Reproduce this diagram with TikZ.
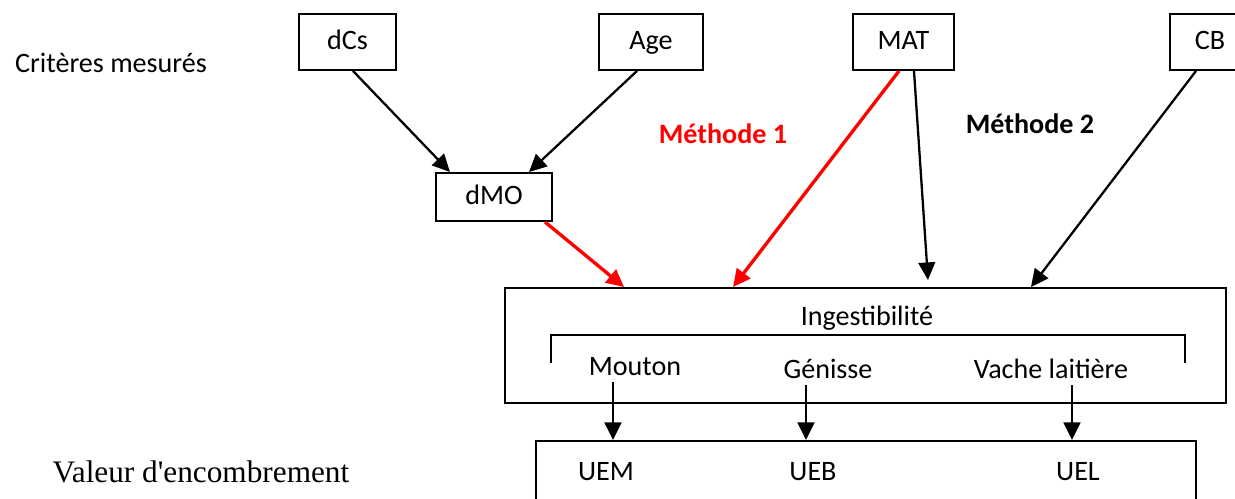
\documentclass[tikz,border=0pt]{standalone}
\usepackage{fontspec}
\setmainfont{Carlito}
\newfontfamily\timesfont{Liberation Serif}
\usetikzlibrary{arrows.meta}

\newcommand{\px}{0.02cm}

\tikzset{
    critbox/.style={draw, line width=1.1pt, minimum height=1.12cm, inner sep=0pt, text height=11pt, text depth=3pt},
    bigbox/.style={draw, line width=1.1pt, inner sep=0pt},
    arr/.style={line width=1.3pt, -{Triangle[length=10pt,width=9.5pt]}},
    redarr/.style={red, line width=1.9pt, -{Triangle[length=10pt,width=9.5pt]}},
}

\begin{document}
\begin{tikzpicture}[x=\px, y=-\px, font=\fontsize{16}{19}\selectfont]
    \useasboundingbox (0,0) rectangle (1235,499);
    \clip (0,0) rectangle (1235,499);

    % Measured criteria.
    \node[critbox, minimum width=1.94cm] (dcs) at (347.5,42) {dCs};
    \node[critbox, minimum width=2.08cm] (age) at (651,42)   {Age};
    \node[critbox, minimum width=2.02cm] (mat) at (903.5,42) {MAT};
    \node[critbox, minimum width=1.6cm]  (cb)  at (1210,42)  {CB};
    \node[critbox, minimum width=2.32cm, minimum height=0.96cm] (dmo) at (494,197) {dMO};

    % Ingestibility and fill values.
    \node[bigbox, minimum width=14.42cm, minimum height=2.3cm] (ing) at (865.5,345.5) {};
    \node[bigbox, minimum width=13.2cm, minimum height=1.58cm] (val) at (866,480.5) {};
    \draw[line width=1pt] (551,363) -- (551,335) -- (1185,335) -- (1185,363);

    % Labels.
    \node (crit) at (111,63) {Critères mesurés};
    \node (enc) at (201,472) {\timesfont\fontsize{17.8}{21}\selectfont Valeur d'encombrement};
    \node[red, font=\fontsize{16}{19}\selectfont\bfseries] (meth1) at (723,134) {Méthode 1};
    \node[font=\fontsize{16}{19}\selectfont\bfseries] (meth2) at (1030,124) {Méthode 2};
    \node (ingtxt)  at (867,318)  {Ingestibilité};
    \node (mouton)  at (635,367)  {Mouton};
    \node (genisse) at (828,369)  {Génisse};
    \node (vache)   at (1051,369) {Vache laitière};
    \node (uem) at (606,472)  {UEM};
    \node (ueb) at (813,472)  {UEB};
    \node (uel) at (1078,472) {UEL};

    % Arrows from the criteria.
    \coordinate (matend) at (928,280);
    \draw[arr] ([xshift=0.11cm]dcs.south) -- ([xshift=-0.88cm]dmo.north);
    \draw[arr] ([xshift=-0.28cm]age.south) -- ([xshift=0.7cm]dmo.north);
    \draw[redarr] ([xshift=1.02cm]dmo.south) -- ([xshift=-4.83cm]ing.north);
    \draw[redarr] ([xshift=-0.09cm]mat.south) -- ([xshift=-2.65cm]ing.north);
    \draw[arr] ([xshift=0.21cm]mat.south) -- (matend);
    \draw[arr] ([xshift=-0.28cm]cb.south) -- ([xshift=3.31cm]ing.north);

    % Arrows to the fill values.
    \draw[arr] ([xshift=-0.44cm]mouton.south) coordinate (m0) -- (m0 |- val.north);
    \draw[arr] ([xshift=-0.44cm]genisse.south) coordinate (g0) -- (g0 |- val.north);
    \draw[arr] ([xshift=0.42cm]vache.south) coordinate (v0) -- (v0 |- val.north);

\end{tikzpicture}
\end{document}
